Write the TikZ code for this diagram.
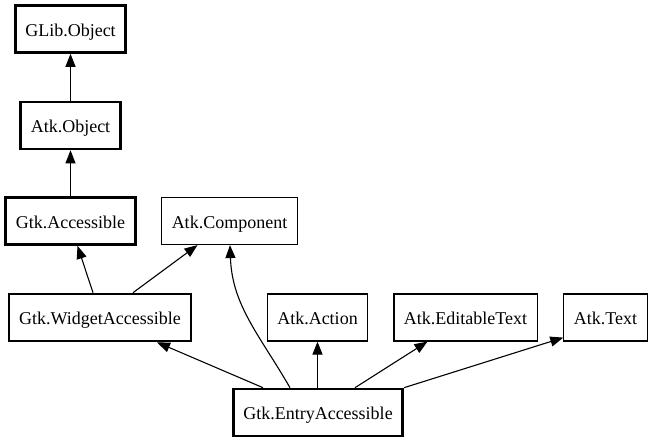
\documentclass[tikz,border=0pt]{standalone}
\usepackage{fontspec}
\setmainfont{Liberation Serif}
\usetikzlibrary{arrows.meta}

\begin{document}
\begin{tikzpicture}
  [
    x=1pt, y=-1pt,
    ->,
    >={Triangle[length=13pt,width=10pt]},
    line width=1.1pt,
    class node/.style={rectangle, draw, line width=1.2pt, minimum height=47pt,
      inner xsep=10pt, text height=15pt, text depth=0pt,
      font=\fontsize{18}{22}\selectfont},
    base node/.style={class node, line width=2.6pt}
    ]
  \useasboundingbox (0,0) rectangle (654,443);

  \node [base node] (glib) at (70.5,29) {GLib.Object};
  \node [base node] (atkobj) at (70.5,125.5) {Atk.Object};
  \node [base node] (gtkacc) at (70.5,221) {Gtk.Accessible};
  \node [class node] (comp) at (229.5,221) {Atk.Component};
  \node [base node] (widget) at (100,317.5) {Gtk.WidgetAccessible};
  \node [class node] (action) at (317.5,317.5) {Atk.Action};
  \node [class node] (edit) at (465.5,317.5) {Atk.EditableText};
  \node [class node] (text) at (605.5,317.5) {Atk.Text};
  \node [base node] (entry) at (318,412.5) {Gtk.EntryAccessible};

  \draw (atkobj) -- (glib);
  \draw (gtkacc) -- (atkobj);
  \draw ([xshift=-7pt]widget.north) -- ([xshift=7pt]gtkacc.south);
  \draw ([xshift=33pt]widget.north) -- ([xshift=-32pt]comp.south);
  \draw ([xshift=-55pt]entry.north) -- ([xshift=57pt]widget.south);
  \draw ([xshift=-28pt]entry.north) [out=120, in=-88] to ([xshift=0.5pt]comp.south);
  \draw (entry.north -| action) -- (action);
  \draw ([xshift=37pt]entry.north) -- ([xshift=-38pt]edit.south);
  \draw (entry.north east) -- ([yshift=4pt]text.south west);
\end{tikzpicture}
\end{document}
